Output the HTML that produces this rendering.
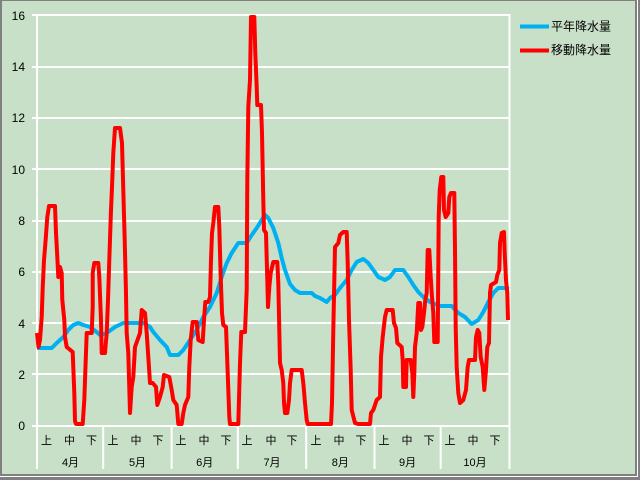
<!DOCTYPE html>
<html><head><meta charset="utf-8"><style>
html,body{margin:0;padding:0;background:#fff;}
svg{display:block;}
text{font-family:"Liberation Sans","Noto Sans CJK JP",sans-serif;fill:#000;}
</style></head><body>
<svg width="640" height="480" viewBox="0 0 640 480" xmlns="http://www.w3.org/2000/svg">
<rect x="0" y="0" width="640" height="480" fill="#808080"/>
<rect x="0" y="0" width="638" height="477" fill="#ffffff"/>
<rect x="0" y="0" width="637" height="476" fill="#808080"/>
<rect x="2" y="1" width="633" height="473" fill="#C8E0C8"/>

<!-- grid -->
<g stroke="#ffffff" stroke-width="2" fill="none">
<line x1="32" y1="15" x2="510" y2="15"/>
<line x1="32" y1="67" x2="510" y2="67"/>
<line x1="32" y1="118" x2="510" y2="118"/>
<line x1="32" y1="169" x2="510" y2="169"/>
<line x1="32" y1="221" x2="510" y2="221"/>
<line x1="32" y1="272" x2="510" y2="272"/>
<line x1="32" y1="323" x2="510" y2="323"/>
<line x1="32" y1="374" x2="510" y2="374"/>
<line x1="32" y1="426" x2="510" y2="426"/>
<line x1="37" y1="14" x2="37" y2="469"/>
<line x1="509.5" y1="14" x2="509.5" y2="469"/>
<line x1="103.2" y1="426" x2="103.2" y2="469"/>
<line x1="171.6" y1="426" x2="171.6" y2="469"/>
<line x1="237.8" y1="426" x2="237.8" y2="469"/>
<line x1="306.2" y1="426" x2="306.2" y2="469"/>
<line x1="374.5" y1="426" x2="374.5" y2="469"/>
<line x1="440.7" y1="426" x2="440.7" y2="469"/>
</g>

<!-- y labels -->
<g font-size="12" text-anchor="end">
<text x="25" y="20">16</text>
<text x="25" y="71">14</text>
<text x="25" y="122">12</text>
<text x="25" y="174">10</text>
<text x="25" y="225">8</text>
<text x="25" y="276">6</text>
<text x="25" y="328">4</text>
<text x="25" y="379">2</text>
<text x="25" y="430">0</text>
</g>

<!-- x labels -->
<g font-size="11" text-anchor="middle">
<text x="46.5" y="444">上</text><text x="69.5" y="444">中</text><text x="91.5" y="444">下</text>
<text x="113" y="444">上</text><text x="136" y="444">中</text><text x="158" y="444">下</text>
<text x="181" y="444">上</text><text x="204" y="444">中</text><text x="226" y="444">下</text>
<text x="247" y="444">上</text><text x="271" y="444">中</text><text x="292" y="444">下</text>
<text x="316" y="444">上</text><text x="339" y="444">中</text><text x="361" y="444">下</text>
<text x="384" y="444">上</text><text x="407" y="444">中</text><text x="429" y="444">下</text>
<text x="450" y="444">上</text><text x="473" y="444">中</text><text x="495" y="444">下</text>
<text x="70.5" y="466">4月</text>
<text x="137.5" y="466">5月</text>
<text x="204.7" y="466">6月</text>
<text x="272" y="466">7月</text>
<text x="340.3" y="466">8月</text>
<text x="407.6" y="466">9月</text>
<text x="475" y="466">10月</text>
</g>

<!-- blue series -->
<polyline fill="none" stroke="#00B0F0" stroke-width="4" stroke-linejoin="round" points="37,348 51.7,348 56.7,343 63.3,337 68.3,330 73.3,325 78.3,323 83.3,325 90,327 96.7,332 100,335 106.7,333 115,327 123.3,323 143.3,323 150,327 153.3,332 160,340 166.7,347 170,355 178.3,355 183.3,350 190,340 196.7,330 203.3,317 210,307 216.7,293 221.7,277 226.7,263 231.7,253 238.3,243 246.7,243 251.7,235 256.7,228 261.7,220 265,215 268.3,218 273.3,228 278.3,243 281.7,258 285,270 290,284 295,290 300,293 311.7,293 315,296 320,298 326.7,302 330,298 335,295 340,288 346.7,280 351.7,270 356.7,262 363.3,259 368.3,263 373.3,270 378.3,277 385,280 390,277 395,270 403.3,270 408.3,277 413.3,285 418.3,292 423.3,297 430,302 440,306 451.7,306 458.3,313 465,317 471.7,324 478.3,320 483.3,312 488.3,302 493.3,293 498.3,288 505,288 509,289"/>

<!-- red series -->
<polyline fill="none" stroke="#FF0000" stroke-width="4" stroke-linejoin="round" points="37,333 38.5,347 40,340 41.7,317 42.7,288 44,260 45,248 46,235 47.3,217 49,206 55,206 56,233 57.3,257 58.3,277 60,267 61.7,273 62.3,300 64.3,320 65,337 66.7,347 72.7,352 74.3,393 75,421 76,424 82.7,424 84.3,400 85.3,372 86.7,333 91.7,333 92.7,307 92.7,273 94.3,263 98.3,263 99.3,277 101,320 101.7,353 105,353 106.7,333 108,300 109.3,260 111,210 112,187 113.3,153 115,128 120,128 122,143 123.3,190 124.7,240 126,293 126.7,333 128.3,353 130,413 131.7,387 133.3,377 135,347 140,333 141.7,310 145,313 146.7,333 148.3,357 150,383 152.7,383 156,387 157.3,405 160,397 162.7,387 164,375 169.3,377 171.7,390 173.3,400 176.7,405 178.3,424 181.7,424 183.3,413 185,405 188.3,397 189.3,367 190.7,340 192.7,322 196.7,322 198.3,340 202.7,342 204,320 205.3,302 208.3,302 210,297 211,260 212,233 213.3,223 215,207 218.3,207 219.3,227 220.7,277 222,313 223.3,325 226,327 227.7,373 229.3,417 230,424 238.3,424 240,363 241.3,332 245,332 246.7,290 247.3,180 248.3,107 250,80 251,17 254.3,17 255.3,53 256.7,87 257.3,105 261,105 262,133 263.3,200 264,230 266,233 267.3,280 268,307 269.3,287 270.7,273 273.3,262 277.3,262 278.3,283 279.3,330 280,363 281.7,370 283.3,383 284,403 285,413 287.3,413 289,400 290,383 291.7,370 301.7,370 303.3,383 305,403 306.7,420 307.7,424 331,424 332,403 333.3,330 335,247 338.3,243 340,235 343.3,232 346.7,232 347.7,263 349,320 350.7,370 351.7,410 355,423 358.3,424 370,424 371,413 373.3,410 376.7,400 380,397 381,357 382.7,337 385,317 386.7,310 392.7,310 394,323 396,328 397.3,343 401.7,347 402.7,360 403.3,387 406,387 406.7,360 410.7,360 412.3,373 413.3,397 414.3,373 415,347 416.7,333 418.3,303 420,303 421,330 422.3,327 424,313 425.3,300 426.7,293 427.7,250 429.3,250 430.7,277 431.7,293 433.3,313 434.3,342 437.7,342 438.7,217 439.7,190 441.3,177 443.3,177 444,210 445.7,217 448.3,213 449.3,197 451,193 454.3,193 455,250 455.7,327 456.7,367 458.3,393 460,403 463.3,400 466,390 467.7,367 469,360 475,360 476,337 477.7,330 479.3,333 480.7,357 482.7,367 484.3,390 486,370 487.3,347 489,343 490,293 491,285 496,282 497.3,275 499.3,270 500,243 501.7,233 504,232 504.7,253 506,280 507.3,293 508,320"/>

<!-- legend -->
<line x1="520" y1="26.5" x2="549" y2="26.5" stroke="#00B0F0" stroke-width="4"/>
<text x="551" y="30.5" font-size="12">平年降水量</text>
<line x1="520" y1="50.5" x2="549" y2="50.5" stroke="#FF0000" stroke-width="4"/>
<text x="551" y="54" font-size="12">移動降水量</text>
</svg>
</body></html>
